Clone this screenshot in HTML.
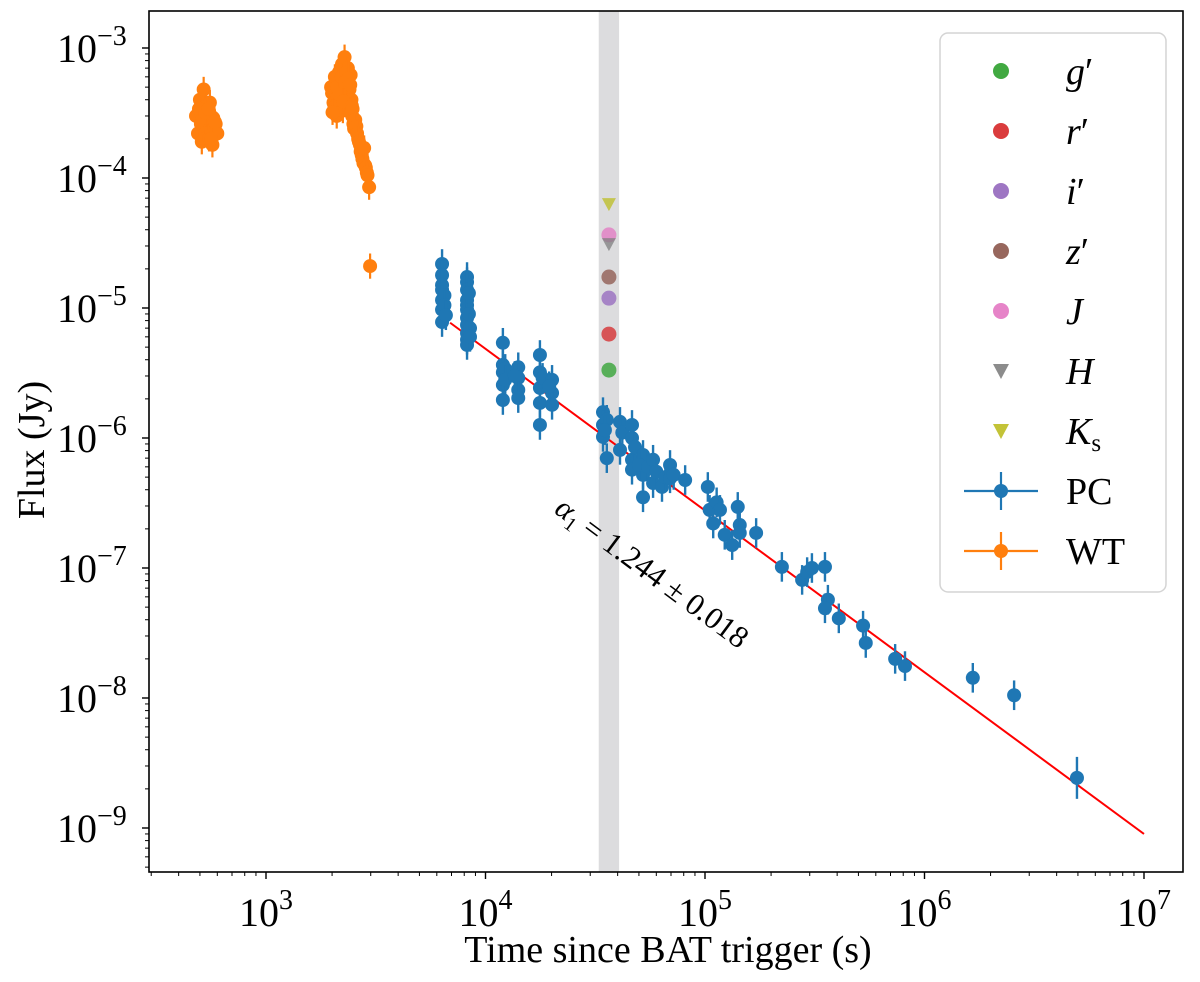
<!DOCTYPE html>
<html><head><meta charset="utf-8"><style>
body{margin:0;background:#fff;}
svg{display:block;font-family:"Liberation Serif",serif;}
</style></head><body>
<svg id="chart" width="1200" height="982"></svg>
<script>
const pcTime=[6340,6340,6340,6340,6340,6340,6340,6500,6500,6600,8240,8240,8240,8240,8240,8240,8240,8240,8240,8240,8240,8400,8400,8500,8500,12000,12000,12000,12000,12000,12300,12300,14100,14100,14100,14100,13600,17700,17700,17700,17700,17700,18200,20100,20100,20100,19500,34300,34300,34300,35700,35700,35000,41000,41000,42000,46500,46500,46500,46500,48000,52200,52200,52200,50000,55000,58000,58000,60000,63700,66000,69300,69300,72000,81200,103000,105000,113000,117000,109000,123000,133000,141000,144000,144000,171000,224000,277000,292000,307000,352000,363000,352000,407000,525000,540000,735000,815000,1660000,2560000,4950000];
const pcFlux=[2.18e-5,1.79e-5,1.5e-5,1.38e-5,1.15e-5,9.7e-6,7.8e-6,1.25e-5,1.05e-5,8.8e-6,1.73e-5,1.58e-5,1.38e-5,1.15e-5,1.05e-5,9.7e-6,8.4e-6,7.4e-6,6.4e-6,5.7e-6,5.2e-6,1.3e-5,9.0e-6,7.0e-6,6.0e-6,5.4e-6,3.65e-6,3.2e-6,2.56e-6,1.96e-6,3.4e-6,2.8e-6,3.5e-6,2.9e-6,2.34e-6,2.03e-6,3.0e-6,4.35e-6,3.2e-6,2.43e-6,1.86e-6,1.26e-6,2.9e-6,2.8e-6,2.22e-6,1.8e-6,2.5e-6,1.58e-6,1.26e-6,1.02e-6,7.0e-7,1.38e-6,1.15e-6,1.33e-6,8.1e-7,1.1e-6,1.26e-6,1.0e-6,6.8e-7,5.7e-7,8.5e-7,7.4e-7,5.2e-7,3.5e-7,6.2e-7,6.0e-7,6.8e-7,4.5e-7,5.5e-7,4.2e-7,5.0e-7,6.2e-7,4.9e-7,5.2e-7,4.75e-7,4.2e-7,2.8e-7,3.2e-7,2.8e-7,2.2e-7,1.8e-7,1.5e-7,2.95e-7,2.14e-7,1.86e-7,1.86e-7,1.02e-7,8.1e-8,9.3e-8,1.0e-7,1.02e-7,5.7e-8,4.9e-8,4.1e-8,3.6e-8,2.65e-8,2.0e-8,1.76e-8,1.43e-8,1.05e-8,2.43e-9];
const wtTime=[480,490,500,505,510,515,520,525,530,535,540,545,550,555,560,565,570,575,580,590,600,495,512,528,548,562,585,1980,2000,2030,2050,2080,2100,2120,2150,2170,2200,2220,2240,2260,2280,2300,2320,2340,2360,2380,2400,2430,2450,2470,2500,2010,2060,2110,2160,2210,2250,2290,2330,2370,2420,2460,2480,2520,2550,2580,2600,2630,2650,2680,2700,2730,2750,2780,2800,2830,2850,2880,2900,2950,2980];
const wtFlux=[3.0e-4,2.2e-4,4.0e-4,2.6e-4,1.9e-4,3.3e-4,4.8e-4,2.9e-4,2.2e-4,3.6e-4,2.5e-4,3.0e-4,2.0e-4,3.8e-4,2.7e-4,2.3e-4,1.8e-4,2.9e-4,2.4e-4,2.6e-4,2.2e-4,3.4e-4,2.8e-4,3.2e-4,3.4e-4,2.0e-4,2.7e-4,5.0e-4,4.5e-4,3.8e-4,3.5e-4,5.5e-4,3.0e-4,4.2e-4,6.5e-4,3.8e-4,5.0e-4,7.5e-4,3.3e-4,4.6e-4,8.5e-4,6.0e-4,4.0e-4,5.3e-4,7.0e-4,3.5e-4,4.8e-4,6.2e-4,4.0e-4,3.0e-4,2.6e-4,3.2e-4,6.0e-4,5.0e-4,4.4e-4,6.0e-4,3.9e-4,5.5e-4,6.5e-4,5.8e-4,5.2e-4,3.6e-4,3.4e-4,2.4e-4,2.8e-4,2.5e-4,2.2e-4,2.0e-4,1.9e-4,1.8e-4,1.6e-4,1.5e-4,1.4e-4,1.3e-4,1.7e-4,1.25e-4,1.2e-4,1.1e-4,1.05e-4,8.5e-5,2.1e-5];
const optBands=["g'","r'","i'","z'","J","H","Ks"];
const optFlux=[3.33e-6,6.3e-6,1.19e-5,1.73e-5,3.65e-5,3.1e-5,6.3e-5];
const optTime=[36500,36500,36500,36500,36500,36500,36500];
const optColor=["#2ca02c","#d62728","#9467bd","#8c564b","#e377c2","#7f7f7f","#bcbd22"];
const optMarker=["o","o","o","o","o","v","v"];
const fitNorm=7.7e-6, fitT0=6900, fitAlpha=1.244, fitStart=6900, fitEnd=1e7;
const bandStart=32800, bandEnd=40600;
const xTickVals=[1e3,1e4,1e5,1e6,1e7], xTickExp=["3","4","5","6","7"];
const yTickVals=[1e-3,1e-4,1e-5,1e-6,1e-7,1e-8,1e-9], yTickExp=["−3","−4","−5","−6","−7","−8","−9"];

const L=149,R=1183,T=11,B=872;
const X=t=>266+(Math.log10(t)-3)*219.5;
const Y=f=>48-(Math.log10(f)+3)*130;
const NS="http://www.w3.org/2000/svg";
const svg=document.getElementById('chart');
function mk(tag,at,parent){const e=document.createElementNS(NS,tag);for(const k in at)e.setAttribute(k,at[k]);(parent||svg).appendChild(e);return e;}

const band=mk('rect',{x:X(bandStart),y:T,width:X(bandEnd)-X(bandStart),height:B-T,fill:'#dcdcde'});



const wtG=mk('g',{});


wtTime.forEach((t,i)=>{const x=X(t),f=wtFlux[i];
 mk('line',{x1:x,x2:x,y1:Y(f*1.25),y2:Y(f*0.8),stroke:'#ff7f0e','stroke-width':2.2},wtG);
 const c=mk('circle',{cx:x,cy:Y(f),r:7,fill:'#ff7f0e'},wtG);
 
 });

const fl=mk('line',{x1:X(fitStart),y1:Y(fitNorm*Math.pow(fitStart/fitT0,-fitAlpha)),x2:X(fitEnd),y2:Y(fitNorm*Math.pow(fitEnd/fitT0,-fitAlpha)),stroke:'#ff0000','stroke-width':2});



const pcG=mk('g',{});


pcTime.forEach((t,i)=>{const x=X(t),f=pcFlux[i];const e=i==pcTime.length-1?1.45:1.3;
 mk('line',{x1:x,x2:x,y1:Y(f*e),y2:Y(f/e),stroke:'#1f77b4','stroke-width':2.4},pcG);
 const c=mk('circle',{cx:x,cy:Y(f),r:7,fill:'#1f77b4'},pcG);
 
 });

optTime.forEach((t,i)=>{const x=X(t),y=Y(optFlux[i]);let m;
 if(optMarker[i]=='o')m=mk('circle',{cx:x,cy:y,r:7.5,fill:optColor[i],opacity:0.75});
 else m=mk('polygon',{points:`${x-7},${y-6} ${x+7},${y-6} ${x},${y+7}`,fill:optColor[i],opacity:0.75});
 
 });

const fr=mk('rect',{x:L,y:T,width:R-L,height:B-T,fill:'none',stroke:'#000','stroke-width':1.6});


for(let d=2;d<=7;d++)for(let m=1;m<10;m++){const t=m*Math.pow(10,d);const x=X(t);if(x<L||x>R)continue;
 mk('line',{x1:x,x2:x,y1:B,y2:B+(m==1?7:4),stroke:'#000','stroke-width':m==1?1.4:1});}
xTickVals.forEach((v,i)=>{const tx=mk('text',{x:X(v),y:926,'text-anchor':'middle','font-size':40});
 tx.textContent='10';const s=mk('tspan',{dy:-17,'font-size':28},tx);s.textContent=xTickExp[i];
 
 });
for(let d=-10;d<=-3;d++)for(let m=1;m<10;m++){const f=m*Math.pow(10,d);const y=Y(f);if(y<T||y>B)continue;
 mk('line',{x1:L,x2:L-(m==1?7:4),y1:y,y2:y,stroke:'#000','stroke-width':m==1?1.4:1});}
yTickVals.forEach((v,i)=>{const tx=mk('text',{x:57,y:Y(v)+14,'font-size':40});
 tx.textContent='10';const s=mk('tspan',{dy:-17,'font-size':28},tx);s.textContent=yTickExp[i];
 
 });

const xt=mk('text',{x:668,y:962,'text-anchor':'middle','font-size':38});xt.textContent='Time since BAT trigger (s)';


const yt=mk('text',{x:0,y:0,'text-anchor':'middle','font-size':38,transform:'translate(44,450) rotate(-90)'});yt.textContent='Flux (Jy)';



const an=mk('text',{x:0,y:0,'font-size':31,transform:'translate(553,512) rotate(36.5)'});
an.innerHTML='<tspan font-style="italic">α</tspan><tspan font-size="20" dy="6">1</tspan><tspan dy="-6"> = 1.244 ± 0.018</tspan>';



const lg=mk('g',{});


mk('rect',{x:940,y:33,width:226,height:559,rx:8,fill:'#fff',stroke:'#d0d0d0','stroke-width':1.5,opacity:0.9},lg);
const labs=[["g","′"],["r","′"],["i","′"],["z","′"],["J",""],["H",""],["K","s"],["PC",""],["WT",""]];
labs.forEach((lb,i)=>{const y=71+i*60;const mx=1001;
 if(i<7){if(optMarker[i]=='o')mk('circle',{cx:mx,cy:y,r:8,fill:optColor[i],opacity:0.9},lg);
  else mk('polygon',{points:`${mx-8},${y-7} ${mx+8},${y-7} ${mx},${y+8}`,fill:optColor[i],opacity:0.9},lg);}
 else{const c=i==7?'#1f77b4':'#ff7f0e';
  mk('line',{x1:964,x2:1038,y1:y,y2:y,stroke:c,'stroke-width':2.2},lg);
  mk('line',{x1:mx,x2:mx,y1:y-19,y2:y+19,stroke:c,'stroke-width':2.2},lg);
  mk('circle',{cx:mx,cy:y,r:7,fill:c},lg);}
 const tx=mk('text',{x:1066,y:y+13,'font-size':38},lg);
 if(i<7){tx.innerHTML=i==6?'<tspan font-style="italic">K</tspan><tspan font-size="25" dy="7">s</tspan>':'<tspan font-style="italic">'+lb[0]+'</tspan>'+lb[1];}
 else tx.textContent=lb[0];
 
 });
</script>
</body></html>
